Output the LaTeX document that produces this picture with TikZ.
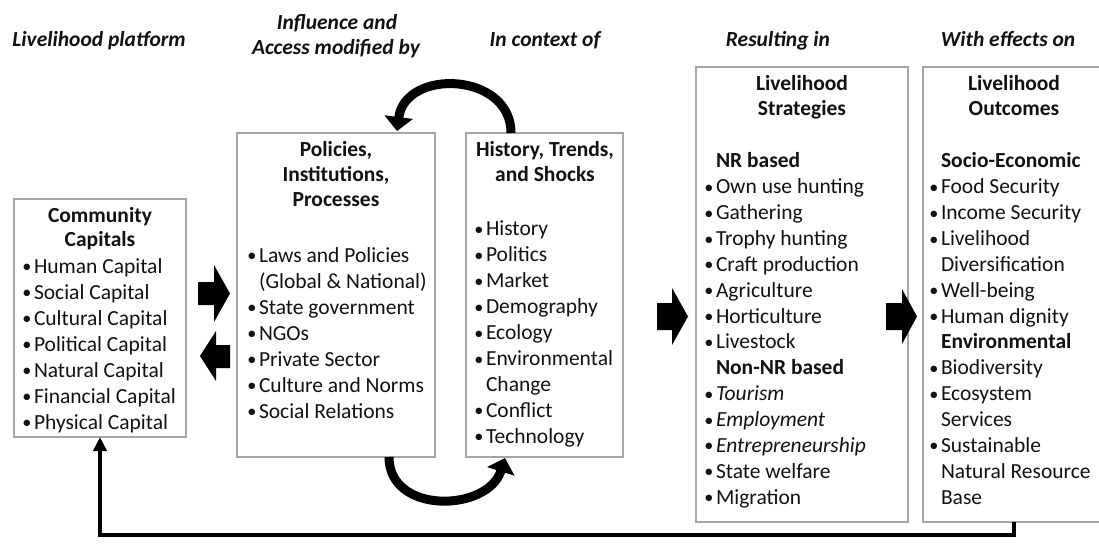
\documentclass[tikz,border=0pt]{standalone}
\usepackage{fontspec}
\setmainfont{Carlito}
\usetikzlibrary{arrows.meta}
\definecolor{boxgray}{HTML}{A6A6A6}
\definecolor{ink}{HTML}{111111}
\newcommand\fsz{\fontsize{21.5}{26}\selectfont}
\newcommand\bul{\makebox[0pt][r]{\raisebox{0.5pt}{\scalebox{0.85}{\textbullet}}\hspace{2.5pt}}}
\begin{document}
\begin{tikzpicture}[x=1pt,y=-1pt,
  box/.style={draw=boxgray, line width=1.3pt, inner sep=0pt, outer sep=0pt, anchor=north west},
  tx/.style={anchor=base west, inner sep=0pt, outer sep=0pt, font=\fsz, text=ink},
  tt/.style={anchor=base, inner sep=0pt, outer sep=0pt, font=\fsz\bfseries, text=ink},
  hd/.style={anchor=base, inner sep=0pt, outer sep=0pt, font=\fsz\bfseries\itshape, text=ink},
  blk/.style={fill=black},
  curv/.style={line width=9pt, -{Triangle[length=14pt,width=28pt]}},
  fb/.style={line width=3.5pt, -{Triangle[length=14pt,width=13pt]}}]
\useasboundingbox (0,0) rectangle (1099,545);
\clip (0,0) rectangle (1099,545);

% boxes
\node[box, minimum width=172pt, minimum height=238pt] (cc) at (14,199) {};
\node[box, minimum width=198pt, minimum height=324pt] (pol) at (237,133) {};
\node[box, minimum width=157pt, minimum height=324pt] (hist) at (466,133) {};
\node[box, minimum width=212pt, minimum height=455pt] (str) at (696,67) {};
\node[box, minimum width=182pt, minimum height=455pt] (out) at (923,67) {};

% headers
\node[hd] (h1) at (99,47) {Livelihood platform};
\node[hd] (h2a) at (337,30) {Influence and};
\node[hd] (h2b) at (336,55) {Access modified by};
\node[hd] (h3) at (545,47) {In context of};
\node[hd] (h4) at (778,47) {Resulting in};
\node[hd] (h5) at (1008,47) {With effects on};

% community capitals
\node[tt] (cct1) at (100,223) {Community};
\node[tt] (cct2) at (100,247) {Capitals};
\foreach \t [count=\i] in {Human Capital, Social Capital, Cultural Capital, Political Capital, Natural Capital, Financial Capital, Physical Capital}
  \node[tx] (cc\i) at (34,{273+26*(\i-1)}) {\bul\t};

% policies
\node[tt] (polt1) at (336,157) {Policies,};
\node[tt] (polt2) at (336,182) {Institutions,};
\node[tt] (polt3) at (336,207) {Processes};
\foreach \t [count=\i] in {\bul Laws and Policies, (Global \& National), \bul State government, \bul NGOs, \bul Private Sector, \bul Culture and Norms, \bul Social Relations}
  \node[tx] (pol\i) at (259,{262+26*(\i-1)}) {\t};

% history
\node[tt] (histt1) at (545,157) {History, Trends,};
\node[tt] (histt2) at (545,182) {and Shocks};
\foreach \t [count=\i] in {\bul History, \bul Politics, \bul Market, \bul Demography, \bul Ecology, \bul Environmental, Change, \bul Conflict, \bul Technology}
  \node[tx] (hist\i) at (486,{236+25.9*(\i-1)}) {\t};

% strategies
\node[tt] (strt1) at (802,91) {Livelihood};
\node[tt] (strt2) at (802,116) {Strategies};
\foreach \t [count=\i] in {\textbf{NR based}, \bul Own use hunting, \bul Gathering, \bul Trophy hunting, \bul Craft production, \bul Agriculture, \bul Horticulture, \bul Livestock, \textbf{Non-NR based}, \bul\textit{Tourism}, \bul\textit{Employment}, \bul\textit{Entrepreneurship}, \bul State welfare, \bul Migration}
  \node[tx] (str\i) at (716,{168+25.85*(\i-1)}) {\t};

% outcomes
\node[tt] (outt1) at (1014,91) {Livelihood};
\node[tt] (outt2) at (1014,116) {Outcomes};
\foreach \t [count=\i] in {\textbf{Socio-Economic}, \bul Food Security, \bul Income Security, \bul Livelihood, Diversification, \bul Well-being, \bul Human dignity, \textbf{Environmental}, \bul Biodiversity, \bul Ecosystem, Services, \bul Sustainable, Natural Resource, Base}
  \node[tx] (out\i) at (941,{168+25.85*(\i-1)}) {\t};

% block arrows
\fill[blk] (198,282) -- (214,282) -- (214,265) -- (230,293.5) -- (214,322) -- (214,305) -- (198,305) -- cycle;
\fill[blk] (230,345) -- (216,345) -- (216,331) -- (200,356) -- (216,381) -- (216,368) -- (230,368) -- cycle;
\fill[blk] (657,303) -- (672,303) -- (672,288) -- (688,316.5) -- (672,345) -- (672,330) -- (657,330) -- cycle;
\fill[blk] (886,303) -- (902,303) -- (902,289) -- (917,316.5) -- (902,344) -- (902,330) -- (886,330) -- cycle;

% curved arrows
\draw[curv] ([xshift=45pt]hist.north west) .. controls (511,72) and (405,68) .. ([xshift=160pt,yshift=2pt]pol.north west);
\draw[curv] ([xshift=152pt]pol.south west) .. controls (389,515) and (488,512) .. ([xshift=39pt,yshift=-1pt]hist.south west);

% feedback
\draw[fb] (out.south) -- ++(0,13) -| (cc.south);
\end{tikzpicture}
\end{document}
